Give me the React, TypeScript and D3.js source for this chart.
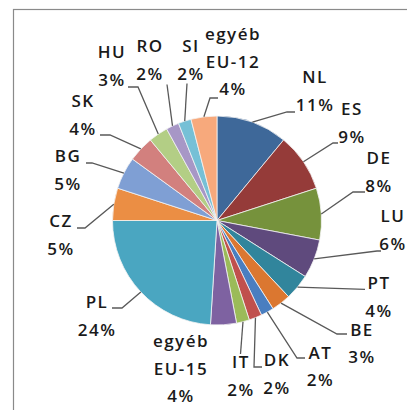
import React from 'react';
import * as d3 from 'd3';

// Share of each country (per cent), clockwise from 12 o'clock
const countries = ['NL', 'ES', 'DE', 'LU', 'PT', 'BE', 'AT', 'DK', 'IT', 'egyéb EU-15', 'PL', 'CZ', 'BG', 'SK', 'HU', 'RO', 'SI', 'egyéb EU-12'];
const shares = [11, 9, 8, 6, 4, 3, 2, 2, 2, 4, 24, 5, 5, 4, 3, 2, 2, 4];
const sliceColors = [
  '#3E6899', '#953B39', '#76923C', '#5F4A7D', '#31859C', '#DB7730',
  '#4A7EC0', '#C0504D', '#9BBB59', '#7E62A1', '#4AA6C1', '#EB8E44',
  '#7F9FD4', '#D2807E', '#B3CE85', '#A797C6', '#76C0D6', '#F7A97C',
];

// Label anchor (centre x, first baseline) relative to the pie centre
const labelAnchors: [number, number][] = [
  [98, -137.5], [135, -105.5], [162, -56.5], [176, 1.5], [162, 68.5], [145, 115],
  [103.5, 138], [60, 145.5], [24, 147.5], [-36, 126.5], [-120, 87.5], [-156, 6.5],
  [-149, -58.5], [-134, -113.5], [-105, -162.5], [-67, -168.5], [-26, -168.5], [16, -180.5],
];

// Leader line bends after the slice edge, relative to the pie centre
const leaderBends: [number, number][][] = [
  [[70, -108.5], [78, -108.5]],
  [[116, -77.5], [121, -77.5]],
  [[136, -28.5], [148, -28.5]],
  [[160, 30.5], [164, 30.5]],
  [[148, 68.8]],
  [[120, 113.5], [130, 113.5]],
  [[80, 137.5], [88, 137.5]],
  [[37, 146.5], [45, 146.5]],
  [[23.5, 133.5]],
  [],
  [[-95, 87.5], [-105, 87.5]],
  [[-132, 7.5], [-140, 7.5]],
  [[-125, -57.5], [-131, -57.5]],
  [[-107, -85.5], [-117, -85.5]],
  [[-79, -133.5], [-89, -133.5]],
  [[-50, -136]],
  [[-30, -137]],
  [[-7, -122.5], [1, -122.5]],
];

const WIDTH = 407;
const HEIGHT = 410;
const CX = 217;
const CY = 220.5;
const RADIUS = 104.5;
const LINE_HEIGHT = 27.5;

export default function App() {
  const pie = d3.pie<number>().sort(null).value((d) => d);
  const arcs = pie(shares);
  const arc = d3.arc<d3.PieArcDatum<number>>().innerRadius(0).outerRadius(RADIUS);
  const line = d3.line<[number, number]>();

  return (
    <svg
      width={WIDTH}
      height={HEIGHT}
      style={{ position: 'absolute', left: 0, top: 0, background: '#fff' }}
      fontFamily="'Open Sans', sans-serif"
    >
      <rect x={13.5} y={9.5} width={430} height={430} fill="#fff" stroke="#8a8a8a" strokeWidth={1.2} />
      <g transform={`translate(${CX},${CY})`}>
        {arcs.map((a, i) => (
          <path key={countries[i]} d={arc(a) ?? ''} fill={sliceColors[i]} stroke="#f4f4f4" strokeWidth={0.8} />
        ))}
        {arcs.map((a, i) => {
          const bends = leaderBends[i];
          if (!bends.length) return null;
          const mid = (a.startAngle + a.endAngle) / 2;
          const edge: [number, number] = [RADIUS * Math.sin(mid), -RADIUS * Math.cos(mid)];
          return (
            <path
              key={`leader-${countries[i]}`}
              d={line([edge, ...bends]) ?? ''}
              fill="none"
              stroke="#595959"
              strokeWidth={1.3}
            />
          );
        })}
        {arcs.map((a, i) => {
          const [lx, ly] = labelAnchors[i];
          const lines = [...countries[i].split(' '), `${shares[i]}%`];
          return (
            <text
              key={`label-${countries[i]}`}
              x={lx}
              y={ly}
              textAnchor="middle"
              fontSize={17}
              fontWeight={600}
              letterSpacing={1.5}
              fill="#1a1a1a"
            >
              {lines.map((t, j) => (
                <tspan key={j} x={lx} y={ly + j * LINE_HEIGHT}>
                  {t}
                </tspan>
              ))}
            </text>
          );
        })}
      </g>
    </svg>
  );
}
